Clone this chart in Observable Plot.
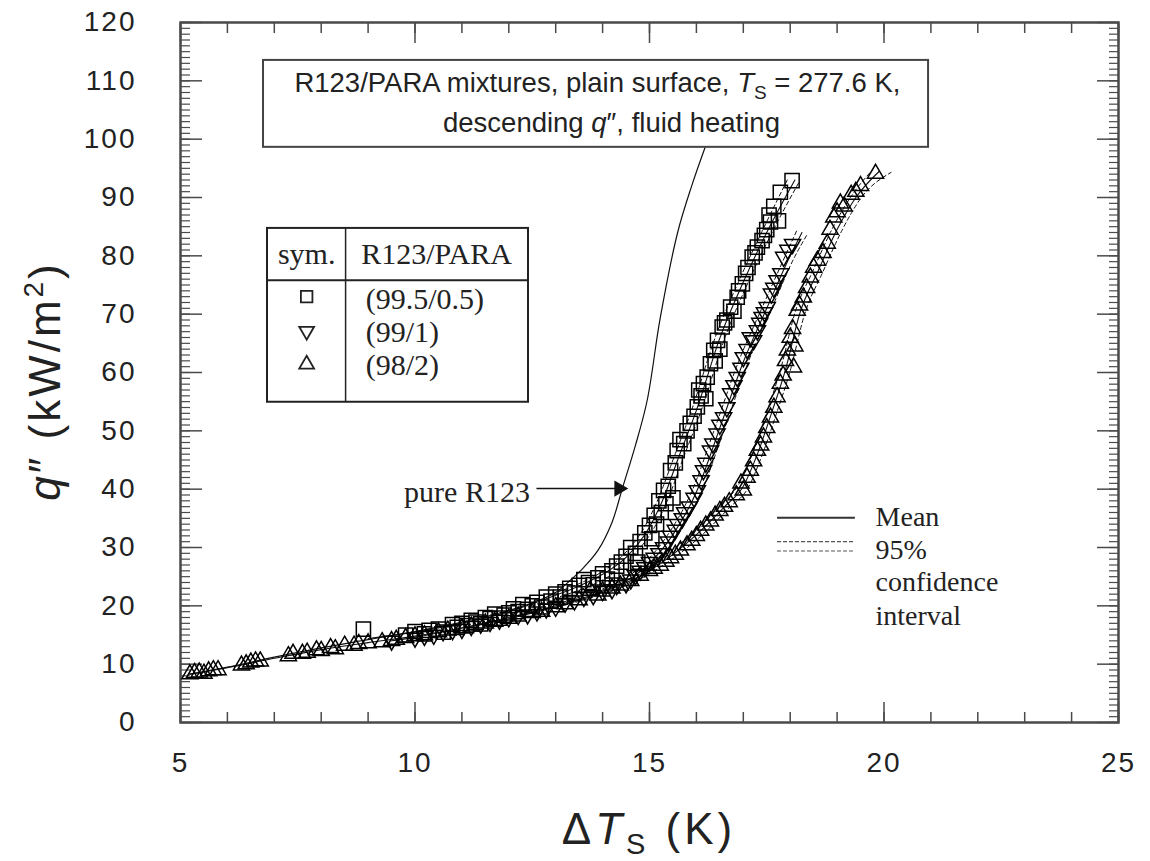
<!DOCTYPE html>
<html><head><meta charset="utf-8">
<script src="https://cdn.jsdelivr.net/npm/d3@7"></script>
<script src="https://cdn.jsdelivr.net/npm/@observablehq/plot@0.6"></script>
<style>
body{margin:0;background:#fff;}
#chart{width:1150px;height:861px;}
g[aria-label="x-axis tick label"] text, g[aria-label="y-axis tick label"] text{letter-spacing:2px;}
</style></head><body><div id="chart"></div>
<script>
// ---------- axis ticks ----------
const xMajor = [5, 10, 15, 20, 25];
const xMinor = d3.range(5, 25.001, 1);
const yMajor = d3.range(0, 120.001, 10);
const yMinor = d3.range(0, 120.001, 1);

// ---------- measured points [ΔTs (K), q" (kW/m2)] ----------
const sq995 = [[8.9,16.0],[9.8,15.0],[10.0,15.6],[10.2,15.2],[10.3,15.8],[10.5,16.0],[10.6,15.5],[10.8,16.8],[10.9,16.3],[11.0,17.0],[11.1,16.6],[11.2,17.5],[11.3,17.2],[11.4,16.9],[11.5,18.0],[11.6,17.8],[11.7,18.6],[11.8,17.9],[11.9,18.4],[12.0,18.8],[12.1,19.5],[12.2,19.0],[12.3,20.2],[12.4,19.4],[12.5,20.0],[12.6,20.6],[12.7,19.8],[12.8,21.5],[12.9,20.8],[13.0,22.0],[13.1,21.5],[13.2,22.4],[13.3,23.0],[13.4,22.2],[13.5,23.5],[13.6,24.5],[13.7,24.0],[13.8,23.6],[13.9,24.8],[14.0,25.5],[14.1,24.6],[14.2,26.0],[14.3,26.8],[14.4,27.5],[14.5,28.5],[14.6,30.0],[14.7,29.0],[14.75,27.5],[14.8,31.0],[14.9,32.5],[15.0,33.8],[15.05,31.5],[15.1,35.5],[15.15,34.0],[15.2,38.0],[15.25,36.0],[15.3,39.8],[15.35,37.5],[15.4,40.5],[15.45,43.2],[15.5,38.5],[15.55,44.5],[15.59,46.6],[15.65,48.5],[15.73,47.8],[15.8,50.0],[15.87,51.3],[15.95,52.5],[16.02,54.1],[16.05,57.0],[16.1,56.0],[16.15,58.1],[16.2,55.5],[16.23,59.2],[16.3,61.5],[16.37,63.8],[16.4,62.0],[16.45,65.5],[16.5,64.0],[16.55,67.8],[16.6,68.5],[16.65,69.0],[16.73,71.2],[16.8,70.5],[16.87,72.9],[16.9,74.0],[16.98,75.2],[17.05,77.0],[17.1,78.0],[17.19,79.8],[17.25,80.5],[17.3,81.5],[17.4,82.6],[17.45,83.5],[17.5,84.5],[17.55,87.0],[17.58,85.8],[17.65,88.5],[17.75,86.0],[17.79,90.9],[18.04,92.9]];
const dn991 = [[9.5,14.0],[10.0,14.5],[10.2,14.8],[10.4,15.0],[10.6,15.6],[10.8,15.8],[11.0,16.0],[11.2,16.5],[11.4,16.9],[11.6,17.2],[11.8,17.6],[12.0,18.0],[12.2,18.4],[12.4,18.5],[12.6,19.0],[12.8,19.5],[13.0,19.8],[13.2,20.5],[13.4,20.9],[13.6,21.5],[13.8,21.8],[14.0,22.5],[14.2,22.8],[14.3,23.5],[14.5,23.8],[14.6,24.5],[14.7,25.2],[14.8,26.0],[14.9,26.6],[15.0,27.5],[15.1,28.2],[15.2,29.0],[15.3,30.0],[15.4,31.0],[15.45,32.0],[15.55,33.0],[15.6,34.0],[15.7,35.0],[15.75,36.0],[15.85,37.0],[15.95,38.5],[16.02,39.8],[16.1,41.5],[16.15,43.2],[16.2,44.5],[16.3,46.6],[16.35,47.8],[16.44,49.5],[16.5,51.0],[16.58,52.3],[16.65,54.0],[16.73,56.4],[16.8,57.8],[16.87,59.2],[16.95,60.8],[17.0,62.6],[17.08,64.0],[17.15,66.0],[17.22,65.5],[17.3,67.2],[17.35,68.5],[17.4,69.5],[17.45,70.3],[17.51,71.2],[17.6,73.5],[17.65,74.5],[17.72,75.8],[17.8,77.0],[17.86,79.8],[17.95,81.0],[18.05,82.0]];
const up982 = [[5.2,8.3],[5.3,8.5],[5.4,8.6],[5.5,8.4],[5.6,8.8],[5.7,9.0],[5.8,9.0],[6.3,9.8],[6.4,10.0],[6.5,10.3],[6.6,10.5],[6.7,10.5],[7.3,11.4],[7.4,11.8],[7.6,11.8],[7.7,12.0],[7.9,12.4],[8.0,12.3],[8.2,12.8],[8.3,12.6],[8.5,13.2],[8.7,13.2],[8.8,13.5],[9.0,13.6],[9.3,13.8],[9.5,14.0],[9.6,14.2],[9.8,14.5],[10.0,14.8],[10.2,15.0],[10.5,15.5],[10.7,15.8],[11.0,16.2],[11.2,16.5],[11.5,17.0],[11.7,17.3],[12.0,17.8],[12.2,18.2],[12.5,18.8],[12.7,19.0],[13.0,19.8],[13.2,20.3],[13.5,21.0],[13.74,22.6],[13.9,21.8],[14.0,22.5],[14.2,23.0],[14.38,23.5],[14.6,24.3],[14.8,25.2],[15.0,26.0],[15.1,26.4],[15.23,26.9],[15.35,27.6],[15.45,28.2],[15.55,28.8],[15.66,29.5],[15.8,30.4],[15.9,31.2],[16.0,32.0],[16.09,32.9],[16.2,33.8],[16.3,34.5],[16.4,35.5],[16.5,36.3],[16.6,37.0],[16.7,37.8],[16.85,39.0],[16.95,41.0],[17.0,39.8],[17.08,42.0],[17.15,43.2],[17.22,44.8],[17.3,46.6],[17.37,47.5],[17.43,48.9],[17.5,50.5],[17.58,52.3],[17.65,54.0],[17.72,55.8],[17.79,58.1],[17.85,59.5],[17.9,62.0],[18.07,60.9],[17.94,63.8],[18.0,66.0],[18.05,67.5],[18.1,64.5],[18.15,70.6],[18.2,71.5],[18.28,72.9],[18.35,74.5],[18.43,76.3],[18.5,78.0],[18.58,79.2],[18.7,80.5],[18.79,82.1],[18.85,84.5],[18.93,86.6],[19.0,87.5],[19.07,89.0],[19.15,88.5],[19.3,90.5],[19.4,91.0],[19.5,92.0],[19.82,94.1]];

// ---------- fitted mean curves and 95% confidence bounds ----------
const sqMean = [[9.0,14.4],[10.0,15.5],[11.0,17.0],[12.0,19.0],[13.0,21.8],[13.5,23.4],[14.0,25.4],[14.5,28.3],[15.0,33.5],[15.3,38.5],[15.6,45.0],[16.0,53.5],[16.5,65.9],[17.0,75.5],[17.5,84.0],[18.1,93.0]];
const sqCIa = [[12.9,22.0],[13.5,23.8],[14.0,25.9],[14.4,28.4],[14.9,33.6],[15.2,38.6],[15.5,45.0],[15.9,53.6],[16.4,66.0],[16.9,75.6],[17.4,84.2],[17.95,93.2]];
const sqCIb = [[13.1,21.6],[13.6,23.0],[14.1,24.9],[14.6,28.2],[15.1,33.4],[15.4,38.4],[15.7,44.9],[16.1,53.4],[16.6,65.8],[17.1,75.4],[17.6,83.8],[18.2,92.8]];
const dnMean = [[9.5,14.0],[10.0,14.6],[11.0,16.2],[12.0,18.0],[13.0,20.0],[14.0,22.5],[14.6,24.7],[15.0,27.3],[15.5,32.2],[16.0,39.5],[16.5,50.5],[17.0,61.8],[17.5,71.0],[18.0,80.0],[18.25,84.0]];
const dnCIa = [[13.0,20.3],[14.0,22.9],[14.5,24.8],[14.9,27.4],[15.4,32.3],[15.9,39.6],[16.4,50.6],[16.9,61.9],[17.4,71.1],[17.9,80.1],[18.15,84.5]];
const dnCIb = [[13.0,19.7],[14.0,22.1],[14.7,24.6],[15.1,27.2],[15.6,32.1],[16.1,39.4],[16.6,50.4],[17.1,61.7],[17.6,70.9],[18.1,79.9],[18.35,83.5]];
const upMean = [[5.2,8.3],[6.0,9.4],[7.0,11.0],[8.0,12.5],[9.0,13.7],[10.0,14.8],[11.0,16.2],[12.0,17.8],[13.0,19.8],[14.0,22.3],[15.0,26.0],[16.0,32.2],[16.6,37.0],[17.0,40.5],[17.3,46.0],[17.6,53.0],[17.9,60.5],[18.2,70.0],[18.6,77.5],[19.0,84.5],[19.4,90.0],[19.9,94.5]];
const upCIa = [[14.0,22.7],[15.0,26.5],[15.9,32.4],[16.5,37.2],[16.9,40.8],[17.2,46.2],[17.5,53.2],[17.8,60.7],[18.1,70.2],[18.5,77.7],[18.9,84.7],[19.3,90.2],[19.75,94.7]];
const upCIb = [[14.0,21.9],[15.0,25.5],[16.1,32.0],[16.7,36.8],[17.1,40.2],[17.4,45.8],[17.7,52.8],[18.0,60.3],[18.3,69.8],[18.7,77.3],[19.1,84.3],[19.5,89.8],[20.15,94.3]];
const pureR123 = [[5.2,8.3],[6.0,9.5],[7.0,11.2],[8.0,12.8],[9.0,14.2],[10.0,15.6],[11.0,17.2],[12.0,19.2],[12.5,20.5],[13.0,22.3],[13.3,24.3],[13.6,26.6],[13.9,29.5],[14.2,34.3],[14.42,40.1],[14.7,47.5],[14.95,55.2],[15.23,69.4],[15.6,84.0],[15.9,92.0],[16.19,98.7]];

// ---------- annotations (data coordinates) ----------
const titleBox = [{x1:6.77, x2:20.95, y1:98.6, y2:113.5}];
const tableBox = [{x1:6.855, x2:12.42, y1:54.9, y2:84.7}];
const tableHLine = [{x1:6.855, x2:12.42, y:75.8}];
const tableVLine = [{x:8.52, y1:54.9, y2:84.7}];
const tableHead = [{x:7.69, y:80.2, t:"sym."},{x:10.46, y:80.2, t:"R123/PARA"}];
const tableRows = [{x:8.95, y:72.6, t:"(99.5/0.5)"},{x:8.95, y:66.9, t:"(99/1)"},{x:8.95, y:61.3, t:"(98/2)"}];
const tableSymX = 7.69;
const tableSymSq = [{y:73.0}];
const tableSymDn = [{y:67.1}];
const tableSymUp = [{y:61.4}];
const pureLabel = [{x:12.45, y:39.4, t:"pure R123"}];
const pureArrow = [{x1:12.6, x2:14.35, y:40.1}];
const meanKey = [{x1:17.73, x2:19.39, y:35.1}];
const ciKey = [{x1:17.73, x2:19.39, y:31.0},{x1:17.73, x2:19.39, y:29.4}];
const keyText = [{x:19.82, y:35.3, t:"Mean"},{x:19.82, y:29.6, t:"95%"},{x:19.82, y:24.0, t:"confidence"},{x:19.82, y:18.3, t:"interval"}];

const fx = d => d[0], fy = d => d[1];
const serif = "'Liberation Serif', 'Times New Roman', serif";
const axisStroke = "#4a4a4a";

const ciLine = data => Plot.line(data, {x: fx, y: fy, curve: "monotone-x", stroke: "#111", strokeWidth: 1, strokeDasharray: "4,3"});
const meanLine = data => Plot.line(data, {x: fx, y: fy, curve: "monotone-x", stroke: "#111", strokeWidth: 1.1});

const tickAxes = [];
for (const a of ["bottom", "top"]) {
  tickAxes.push(Plot.axisX({anchor: a, ticks: xMinor, tickSize: -10, tickFormat: () => "", label: null, stroke: axisStroke, strokeWidth: 1.5}));
  tickAxes.push(Plot.axisX({anchor: a, ticks: xMajor, tickSize: -20, tickFormat: () => "", label: null, stroke: axisStroke, strokeWidth: 1.5}));
}
for (const a of ["left", "right"]) {
  tickAxes.push(Plot.axisY({anchor: a, ticks: yMinor, tickSize: -10, tickFormat: () => "", label: null, stroke: axisStroke, strokeWidth: 1.2}));
  tickAxes.push(Plot.axisY({anchor: a, ticks: yMajor, tickSize: -22, tickFormat: () => "", label: null, stroke: axisStroke, strokeWidth: 1.5}));
}

const plot = Plot.plot({
  width: 1150, height: 861,
  marginLeft: 180, marginRight: 32, marginTop: 22, marginBottom: 139,
  x: {domain: [5, 25]},
  y: {domain: [0, 120]},
  style: {fontFamily: "'Liberation Sans', Arial, sans-serif", background: "#fff", color: "#111", overflow: "visible"},
  marks: [
    ...tickAxes,
    Plot.axisX({anchor: "bottom", ticks: xMajor, tickSize: 0, tickPadding: 30, fontSize: 28, label: null, fill: "#222"}),
    Plot.axisY({anchor: "left", ticks: yMajor, tickSize: 0, tickPadding: 44, fontSize: 28, label: null, fill: "#222"}),
    Plot.frame({stroke: axisStroke, strokeWidth: 2.5}),
    // curves
    Plot.line(pureR123, {x: fx, y: fy, curve: "catmull-rom", stroke: "#111", strokeWidth: 1.2}),
    ciLine(sqCIa), ciLine(sqCIb), ciLine(dnCIa), ciLine(dnCIb), ciLine(upCIa), ciLine(upCIb),
    meanLine(sqMean), meanLine(dnMean), meanLine(upMean),
    // data
    Plot.dot(up982, {x: fx, y: fy, symbol: "triangle", r: 6, stroke: "#000", strokeWidth: 1.5, fill: "none"}),
    Plot.dot(dn991, {x: fx, y: fy, symbol: "triangle", rotate: 180, r: 6, stroke: "#000", strokeWidth: 1.5, fill: "none"}),
    Plot.dot(sq995, {x: fx, y: fy, symbol: "square", r: 8, stroke: "#000", strokeWidth: 1.5, fill: "none"}),
    // title box
    Plot.rect(titleBox, {x1: "x1", x2: "x2", y1: "y1", y2: "y2", fill: "#fff", stroke: "#444", strokeWidth: 2}),
    // table legend
    Plot.rect(tableBox, {x1: "x1", x2: "x2", y1: "y1", y2: "y2", fill: "#fff", stroke: "#222", strokeWidth: 2}),
    Plot.ruleY(tableHLine, {x1: "x1", x2: "x2", y: "y", stroke: "#222", strokeWidth: 2}),
    Plot.ruleX(tableVLine, {x: "x", y1: "y1", y2: "y2", stroke: "#222", strokeWidth: 1.5}),
    Plot.text(tableHead, {x: "x", y: "y", text: "t", fontFamily: serif, fontSize: 30, fill: "#222"}),
    Plot.text(tableRows, {x: "x", y: "y", text: "t", textAnchor: "start", fontFamily: serif, fontSize: 30, fill: "#222"}),
    Plot.dot(tableSymSq, {x: () => tableSymX, y: "y", symbol: "square", r: 6.5, stroke: "#222", strokeWidth: 1.8, fill: "none"}),
    Plot.dot(tableSymDn, {x: () => tableSymX, y: "y", symbol: "triangle", rotate: 180, r: 5.5, stroke: "#222", strokeWidth: 1.8, fill: "none"}),
    Plot.dot(tableSymUp, {x: () => tableSymX, y: "y", symbol: "triangle", r: 5.5, stroke: "#222", strokeWidth: 1.8, fill: "none"}),
    // pure R123 pointer
    Plot.text(pureLabel, {x: "x", y: "y", text: "t", textAnchor: "end", fontFamily: serif, fontSize: 30, fill: "#222"}),
    Plot.ruleY(pureArrow, {x1: "x1", x2: "x2", y: "y", stroke: "#111", strokeWidth: 1.5}),
    Plot.dot(pureArrow, {x: "x2", y: "y", symbol: "triangle", rotate: 90, r: 6, fill: "#111", stroke: "none"}),
    // mean / CI key
    Plot.ruleY(meanKey, {x1: "x1", x2: "x2", y: "y", stroke: "#333", strokeWidth: 2.2}),
    Plot.ruleY(ciKey, {x1: "x1", x2: "x2", y: "y", stroke: "#555", strokeWidth: 1.2, strokeDasharray: "4,2"}),
    Plot.text(keyText, {x: "x", y: "y", text: "t", textAnchor: "start", fontFamily: serif, fontSize: 28, fill: "#222"})
  ]
});
document.getElementById("chart").appendChild(plot);

// ---------- rich text (italic / sub / superscript) ----------
const svg = d3.select(plot);
const sx = plot.scale("x"), sy = plot.scale("y");
const sans = "'Liberation Sans', Arial, sans-serif";

const t1 = svg.append("text").attr("x", sx.apply(13.9)).attr("y", sy.apply(108.0)).attr("text-anchor", "middle")
  .attr("font-family", sans).attr("font-size", 27.5).attr("fill", "#222");
t1.append("tspan").text("R123/PARA mixtures, plain surface, ");
t1.append("tspan").attr("font-style", "italic").text("T");
t1.append("tspan").attr("font-size", 19).attr("dy", 7).text("S");
t1.append("tspan").attr("dy", -7).text(" = 277.6 K,");

const t2 = svg.append("text").attr("x", sx.apply(14.2)).attr("y", sy.apply(101.2)).attr("text-anchor", "middle")
  .attr("font-family", sans).attr("font-size", 27.5).attr("fill", "#222");
t2.append("tspan").text("descending ");
t2.append("tspan").attr("font-style", "italic").text("q");
t2.append("tspan").text("\u2033, fluid heating");

const [xr0, xr1] = sx.range, [yr0, yr1] = sy.range;
const xl = svg.append("text").attr("x", (xr0 + xr1) / 2).attr("y", yr0 + 122).attr("text-anchor", "middle")
  .attr("font-family", sans).attr("font-size", 44).attr("letter-spacing", 4).attr("fill", "#222");
xl.append("tspan").text("\u0394");
xl.append("tspan").attr("font-style", "italic").text("T");
xl.append("tspan").attr("font-size", 29).attr("dy", 10).text("S");
xl.append("tspan").attr("dy", -10).text(" (K)");

const yl = svg.append("text").attr("transform", `translate(60,381) rotate(-90)`).attr("text-anchor", "middle")
  .attr("font-family", sans).attr("font-size", 44).attr("letter-spacing", 3).attr("fill", "#222");
yl.append("tspan").attr("font-style", "italic").text("q");
yl.append("tspan").text("\u2033 (kW/m");
yl.append("tspan").attr("font-size", 28).attr("dy", -17).text("2");
yl.append("tspan").attr("dy", 17).text(")");
</script></body></html>
